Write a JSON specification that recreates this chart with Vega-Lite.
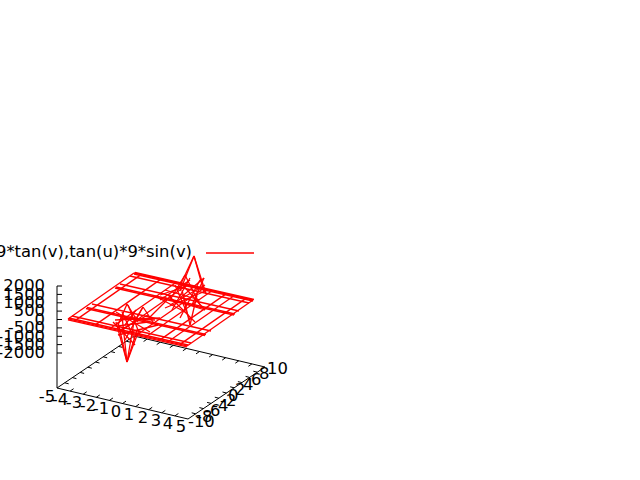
{"$schema":"https://vega.github.io/schema/vega-lite/v6.json","width":640,"height":480,"padding":0,"autosize":"none","background":"white","view":{"stroke":null},
"datasets":{
"frame":[{"sx":57,"sy":286,"ex":57,"ey":388},{"sx":57,"sy":388,"ex":188,"ey":419},{"sx":188,"sy":419,"ex":265,"ey":367},{"sx":57,"sy":388,"ex":134,"ey":336},{"sx":134,"sy":336,"ex":265,"ey":367},
{"sx":57,"sy":286,"ex":62,"ey":286},{"sx":57,"sy":294.4,"ex":62,"ey":294.4},{"sx":57,"sy":302.8,"ex":62,"ey":302.8},{"sx":57,"sy":311.1,"ex":62,"ey":311.1},{"sx":57,"sy":319.5,"ex":62,"ey":319.5},{"sx":57,"sy":327.9,"ex":62,"ey":327.9},{"sx":57,"sy":336.3,"ex":62,"ey":336.3},{"sx":57,"sy":344.6,"ex":62,"ey":344.6},{"sx":57,"sy":353,"ex":62,"ey":353},
{"sx":70.1,"sy":391.1,"ex":73.6,"ey":388.7},{"sx":83.2,"sy":394.2,"ex":86.7,"ey":391.8},{"sx":96.3,"sy":397.3,"ex":99.8,"ey":394.9},{"sx":109.4,"sy":400.4,"ex":112.9,"ey":398},{"sx":122.5,"sy":403.5,"ex":126,"ey":401.1},{"sx":135.6,"sy":406.6,"ex":139.1,"ey":404.2},{"sx":148.7,"sy":409.7,"ex":152.2,"ey":407.3},{"sx":161.8,"sy":412.8,"ex":165.3,"ey":410.4},{"sx":174.9,"sy":415.9,"ex":178.4,"ey":413.5},
{"sx":147.1,"sy":339.1,"ex":143.6,"ey":341.5},{"sx":160.2,"sy":342.2,"ex":156.7,"ey":344.6},{"sx":173.3,"sy":345.3,"ex":169.8,"ey":347.7},{"sx":186.4,"sy":348.4,"ex":182.9,"ey":350.8},{"sx":199.5,"sy":351.5,"ex":196,"ey":353.9},{"sx":212.6,"sy":354.6,"ex":209.1,"ey":357},{"sx":225.7,"sy":357.7,"ex":222.2,"ey":360.1},{"sx":238.8,"sy":360.8,"ex":235.3,"ey":363.2},{"sx":251.9,"sy":363.9,"ex":248.4,"ey":366.3},
{"sx":195.7,"sy":413.8,"ex":191.7,"ey":412.8},{"sx":203.4,"sy":408.6,"ex":199.4,"ey":407.6},{"sx":211.1,"sy":403.4,"ex":207.1,"ey":402.4},{"sx":218.8,"sy":398.2,"ex":214.8,"ey":397.2},{"sx":226.5,"sy":393,"ex":222.5,"ey":392},{"sx":234.2,"sy":387.8,"ex":230.2,"ey":386.8},{"sx":241.9,"sy":382.6,"ex":237.9,"ey":381.6},{"sx":249.6,"sy":377.4,"ex":245.6,"ey":376.4},{"sx":257.3,"sy":372.2,"ex":253.3,"ey":371.2},
{"sx":64.7,"sy":382.8,"ex":68.7,"ey":383.8},{"sx":72.4,"sy":377.6,"ex":76.4,"ey":378.6},{"sx":80.1,"sy":372.4,"ex":84.1,"ey":373.4},{"sx":87.8,"sy":367.2,"ex":91.8,"ey":368.2},{"sx":95.5,"sy":362,"ex":99.5,"ey":363},{"sx":103.2,"sy":356.8,"ex":107.2,"ey":357.8},{"sx":110.9,"sy":351.6,"ex":114.9,"ey":352.6},{"sx":118.6,"sy":346.4,"ex":122.6,"ey":347.4},{"sx":126.3,"sy":341.2,"ex":130.3,"ey":342.2}],
"mesh":[{"sx":68,"sy":319.8,"ex":187,"ey":346.8},{"sx":68,"sy":318.8,"ex":187,"ey":345.8},{"sx":69,"sy":318,"ex":188,"ey":345},{"sx":72,"sy":316,"ex":191,"ey":343},{"sx":86,"sy":308.5,"ex":205,"ey":335.5},{"sx":87,"sy":307.5,"ex":206,"ey":334.5},{"sx":92,"sy":304,"ex":211,"ey":331},{"sx":115,"sy":288,"ex":234,"ey":315},{"sx":116,"sy":287,"ex":235,"ey":314},{"sx":120,"sy":284,"ex":239,"ey":311},{"sx":130,"sy":276,"ex":249,"ey":303},{"sx":134,"sy":274,"ex":253,"ey":301},{"sx":134,"sy":273,"ex":253,"ey":300},{"sx":135,"sy":272.5,"ex":254,"ey":299.5},
{"sx":68,"sy":319,"ex":134,"ey":273},{"sx":75,"sy":320.6,"ex":141,"ey":274.6},{"sx":95,"sy":325.1,"ex":161,"ey":279.1},{"sx":110,"sy":328.5,"ex":176,"ey":282.5},{"sx":121,"sy":331,"ex":187,"ey":285},{"sx":137,"sy":334.7,"ex":203,"ey":288.7},{"sx":146,"sy":336.7,"ex":212,"ey":290.7},{"sx":160,"sy":339.9,"ex":226,"ey":293.9},{"sx":168,"sy":341.7,"ex":234,"ey":295.7},{"sx":180,"sy":344.4,"ex":246,"ey":298.4},{"sx":187,"sy":346,"ex":253,"ey":300},
{"sx":127,"sy":362,"ex":116,"ey":322},{"sx":127,"sy":362,"ex":118,"ey":322},{"sx":127,"sy":362,"ex":139,"ey":330},{"sx":127,"sy":362,"ex":137,"ey":330},{"sx":127,"sy":362,"ex":122,"ey":316},{"sx":127,"sy":362,"ex":135,"ey":316},
{"sx":116,"sy":312,"ex":150,"ey":332},{"sx":120,"sy":330,"ex":148,"ey":315},{"sx":128,"sy":305,"ex":140,"ey":335},{"sx":127,"sy":304,"ex":118,"ey":325},{"sx":127,"sy":304,"ex":138,"ey":322},{"sx":143,"sy":307,"ex":132,"ey":325},{"sx":143,"sy":307,"ex":153,"ey":322},{"sx":136,"sy":310,"ex":125,"ey":325},{"sx":120,"sy":318,"ex":155,"ey":320},{"sx":118,"sy":326,"ex":148,"ey":322},{"sx":115,"sy":320,"ex":160,"ey":318},{"sx":125,"sy":340,"ex":143,"ey":307},{"sx":113,"sy":322,"ex":135,"ey":345},{"sx":118,"sy":335,"ex":158,"ey":325},{"sx":135,"sy":340,"ex":122,"ey":312},
{"sx":194,"sy":256,"ex":178,"ey":290},{"sx":194,"sy":256,"ex":180,"ey":291},{"sx":194,"sy":256,"ex":204,"ey":292},{"sx":194,"sy":256,"ex":206,"ey":294},
{"sx":185,"sy":275,"ex":170,"ey":300},{"sx":185,"sy":275,"ex":200,"ey":305},{"sx":204,"sy":278,"ex":180,"ey":298},{"sx":204,"sy":278,"ex":192,"ey":305},{"sx":163,"sy":297,"ex":205,"ey":310},{"sx":175,"sy":285,"ex":190,"ey":320},{"sx":165,"sy":290,"ex":200,"ey":300},{"sx":190,"sy":325,"ex":182,"ey":290},{"sx":190,"sy":325,"ex":197,"ey":295},{"sx":170,"sy":305,"ex":205,"ey":285},{"sx":160,"sy":295,"ex":190,"ey":285},{"sx":160,"sy":300,"ex":190,"ey":280},{"sx":165,"sy":308,"ex":208,"ey":290},{"sx":172,"sy":310,"ex":190,"ey":278},{"sx":180,"sy":318,"ex":200,"ey":280},{"sx":168,"sy":295,"ex":195,"ey":322},{"sx":155,"sy":296,"ex":185,"ey":312},{"sx":205,"sy":310,"ex":180,"ey":282},
{"sx":167,"sy":300,"ex":147,"ey":320},{"sx":206,"sy":253,"ex":254,"ey":253}],
"labels":[{"t":"9*tan(v),tan(u)*9*sin(v)","sx":192,"sy":252,"a":"key"},
{"t":"2000","sx":45,"sy":286,"a":"z"},{"t":"1500","sx":45,"sy":294.5,"a":"z"},{"t":"1000","sx":45,"sy":303,"a":"z"},{"t":"500","sx":45,"sy":311,"a":"z"},{"t":"0","sx":45,"sy":320,"a":"z"},{"t":"-500","sx":45,"sy":328,"a":"z"},{"t":"-1000","sx":45,"sy":337,"a":"z"},{"t":"-1500","sx":45,"sy":345,"a":"z"},{"t":"-2000","sx":45,"sy":353,"a":"z"},
{"t":"-5","sx":47,"sy":397,"a":"x"},{"t":"-4","sx":60,"sy":400,"a":"x"},{"t":"-3","sx":74,"sy":403,"a":"x"},{"t":"-2","sx":88,"sy":406,"a":"x"},{"t":"-1","sx":101,"sy":409,"a":"x"},{"t":"0","sx":116,"sy":412,"a":"x"},{"t":"1","sx":129,"sy":415,"a":"x"},{"t":"2","sx":143,"sy":418,"a":"x"},{"t":"3","sx":156,"sy":421,"a":"x"},{"t":"4","sx":168,"sy":424,"a":"x"},{"t":"5","sx":181,"sy":427,"a":"x"},
{"t":"-10","sx":188,"sy":422,"a":"y"},{"t":"-8","sx":196,"sy":417,"a":"y"},{"t":"-6","sx":204,"sy":411,"a":"y"},{"t":"-4","sx":212,"sy":406,"a":"y"},{"t":"-2","sx":220,"sy":401,"a":"y"},{"t":"0","sx":228,"sy":396,"a":"y"},{"t":"2","sx":235,"sy":390,"a":"y"},{"t":"4","sx":243,"sy":385,"a":"y"},{"t":"6","sx":251,"sy":380,"a":"y"},{"t":"8","sx":259,"sy":374,"a":"y"},{"t":"10","sx":267,"sy":369,"a":"y"}]},
"layer":[
{"data":{"name":"frame"},"mark":{"type":"rule","color":"black","strokeWidth":1},"encoding":{"x":{"field":"sx","type":"quantitative","scale":{"domain":[0,640]},"axis":null},"y":{"field":"sy","type":"quantitative","scale":{"domain":[480,0]},"axis":null},"x2":{"field":"ex"},"y2":{"field":"ey"}}},
{"data":{"name":"mesh"},"mark":{"type":"rule","color":"#ff0000","strokeWidth":1.3},"encoding":{"x":{"field":"sx","type":"quantitative","scale":{"domain":[0,640]},"axis":null},"y":{"field":"sy","type":"quantitative","scale":{"domain":[480,0]},"axis":null},"x2":{"field":"ex"},"y2":{"field":"ey"}}},
{"data":{"name":"labels"},"transform":[{"filter":"datum.a=='key'||datum.a=='z'"}],"mark":{"type":"text","align":"right","baseline":"middle","font":"DejaVu Sans","fontSize":16.4,"color":"black"},"encoding":{"x":{"field":"sx","type":"quantitative","scale":{"domain":[0,640]},"axis":null},"y":{"field":"sy","type":"quantitative","scale":{"domain":[480,0]},"axis":null},"text":{"field":"t"}}},
{"data":{"name":"labels"},"transform":[{"filter":"datum.a=='x'"}],"mark":{"type":"text","align":"center","baseline":"middle","font":"DejaVu Sans","fontSize":16.4,"color":"black"},"encoding":{"x":{"field":"sx","type":"quantitative","scale":{"domain":[0,640]},"axis":null},"y":{"field":"sy","type":"quantitative","scale":{"domain":[480,0]},"axis":null},"text":{"field":"t"}}},
{"data":{"name":"labels"},"transform":[{"filter":"datum.a=='y'"}],"mark":{"type":"text","align":"left","baseline":"middle","font":"DejaVu Sans","fontSize":16.4,"color":"black"},"encoding":{"x":{"field":"sx","type":"quantitative","scale":{"domain":[0,640]},"axis":null},"y":{"field":"sy","type":"quantitative","scale":{"domain":[480,0]},"axis":null},"text":{"field":"t"}}}
]}
